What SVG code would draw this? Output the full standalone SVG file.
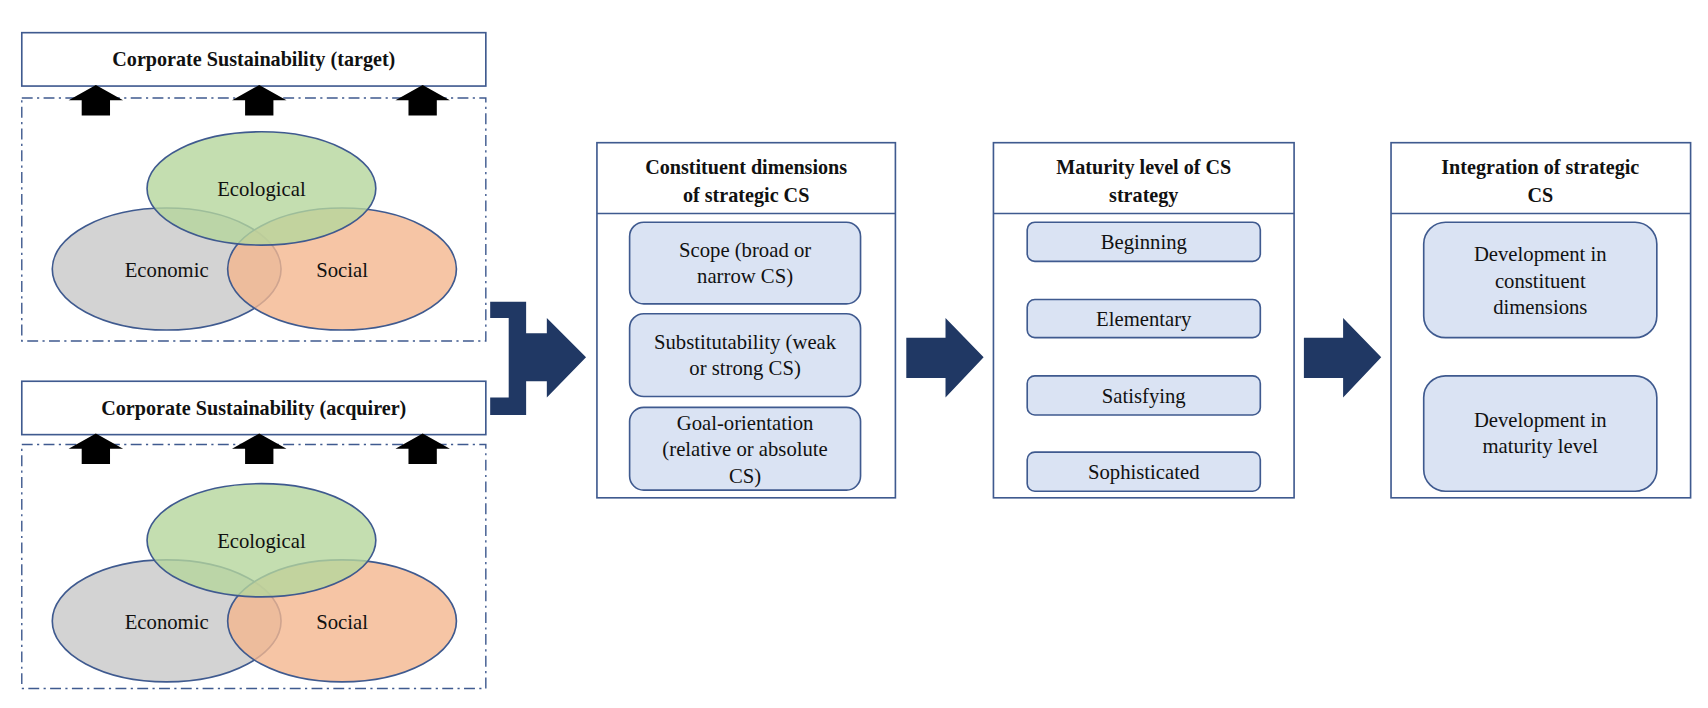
<svg xmlns="http://www.w3.org/2000/svg" width="1708" height="708" viewBox="0 0 1708 708">
<style>
.t{font-family:"Liberation Serif",serif;font-size:19px;fill:#111;text-anchor:middle}
.b{font-weight:bold;font-size:18.5px}
.box{fill:#fff;stroke:#3f5a8f;stroke-width:1.5}
.dash{fill:none;stroke:#3f5a8f;stroke-width:1.3;stroke-dasharray:10 4 2 4}
.item{fill:#dae3f3;stroke:#3f5a8f;stroke-width:1.5}
.el{stroke:#3f5a8f;stroke-width:1.5;fill-opacity:0.8}
.nv{fill:#203864}
</style>
<defs>
<path id="up" d="M-13,26 V12 H-25 L0,-2 L25,12 H13 V26 Z" fill="#000"/>
<g id="venn">
<ellipse class="el" cx="153" cy="0" rx="105" ry="56" fill="#c8c8c8"/>
<ellipse class="el" cx="314" cy="0" rx="105" ry="56" fill="#f4b78f"/>
<ellipse class="el" cx="240" cy="-74" rx="105" ry="52" fill="#b5d69c"/>
<text class="t" x="240" y="-67">Ecological</text>
<text class="t" x="153" y="7">Economic</text>
<text class="t" x="314" y="7">Social</text>
</g>
</defs>
<rect width="1708" height="708" fill="#fff"/>
<g transform="scale(1.0893)">
<g id="target">
<rect class="box" x="20" y="30" width="426" height="49"/>
<text class="t b" x="233" y="61">Corporate Sustainability (target)</text>
<rect class="dash" x="20" y="90" width="426" height="223"/>
<use href="#up" x="88" y="80"/><use href="#up" x="238" y="80"/><use href="#up" x="388" y="80"/>
<use href="#venn" x="0" y="247"/>
</g>
<g id="acquirer">
<rect class="box" x="20" y="350" width="426" height="49"/>
<text class="t b" x="233" y="381">Corporate Sustainability (acquirer)</text>
<rect class="dash" x="20" y="408" width="426" height="224"/>
<use href="#up" x="88" y="400"/><use href="#up" x="238" y="400"/><use href="#up" x="388" y="400"/>
<use href="#venn" x="0" y="570"/>
</g>
<g id="dimensions">
<rect class="box" x="548" y="131" width="274" height="326"/>
<line x1="548" y1="196" x2="822" y2="196" stroke="#3f5a8f" stroke-width="1.5"/>
<text class="t b" x="685" y="160">Constituent dimensions</text>
<text class="t b" x="685" y="185">of strategic CS</text>
<rect class="item" x="578" y="204" width="212" height="75" rx="13"/>
<text class="t" x="684" y="236">Scope (broad or</text><text class="t" x="684" y="260">narrow CS)</text>
<rect class="item" x="578" y="288" width="212" height="76" rx="13"/>
<text class="t" x="684" y="320">Substitutability (weak</text><text class="t" x="684" y="344">or strong CS)</text>
<rect class="item" x="578" y="374" width="212" height="76" rx="13"/>
<text class="t" x="684" y="395">Goal-orientation</text><text class="t" x="684" y="419">(relative or absolute</text><text class="t" x="684" y="443">CS)</text>
</g>
<g id="maturity">
<rect class="box" x="912" y="131" width="276" height="326"/>
<line x1="912" y1="196" x2="1188" y2="196" stroke="#3f5a8f" stroke-width="1.5"/>
<text class="t b" x="1050" y="160">Maturity level of CS</text>
<text class="t b" x="1050" y="185">strategy</text>
<rect class="item" x="943" y="204" width="214" height="36" rx="7"/><text class="t" x="1050" y="229">Beginning</text>
<rect class="item" x="943" y="275" width="214" height="35" rx="7"/><text class="t" x="1050" y="299">Elementary</text>
<rect class="item" x="943" y="345" width="214" height="36" rx="7"/><text class="t" x="1050" y="370">Satisfying</text>
<rect class="item" x="943" y="415" width="214" height="36" rx="7"/><text class="t" x="1050" y="440">Sophisticated</text>
</g>
<g id="integration">
<rect class="box" x="1277" y="131" width="275" height="326"/>
<line x1="1277" y1="196" x2="1552" y2="196" stroke="#3f5a8f" stroke-width="1.5"/>
<text class="t b" x="1414" y="160">Integration of strategic</text>
<text class="t b" x="1414" y="185">CS</text>
<rect class="item" x="1307" y="204" width="214" height="106" rx="20"/>
<text class="t" x="1414" y="240">Development in</text><text class="t" x="1414" y="264">constituent</text><text class="t" x="1414" y="288">dimensions</text>
<rect class="item" x="1307" y="345" width="214" height="106" rx="20"/>
<text class="t" x="1414" y="392">Development in</text><text class="t" x="1414" y="416">maturity level</text>
</g>
<g id="connectors">
<path class="nv" d="M450,277 H483 V306 H502 V292 L538,328 L502,365 V350 H483 V381 H450 V365 H467 V292 H450 Z"/>
<path class="nv" d="M832,310 H868 V292 L903,328 L868,365 V347 H832 Z"/>
<path class="nv" d="M1197,310 H1233 V292 L1268,328 L1233,365 V347 H1197 Z"/>
</g>
</g>
</svg>
